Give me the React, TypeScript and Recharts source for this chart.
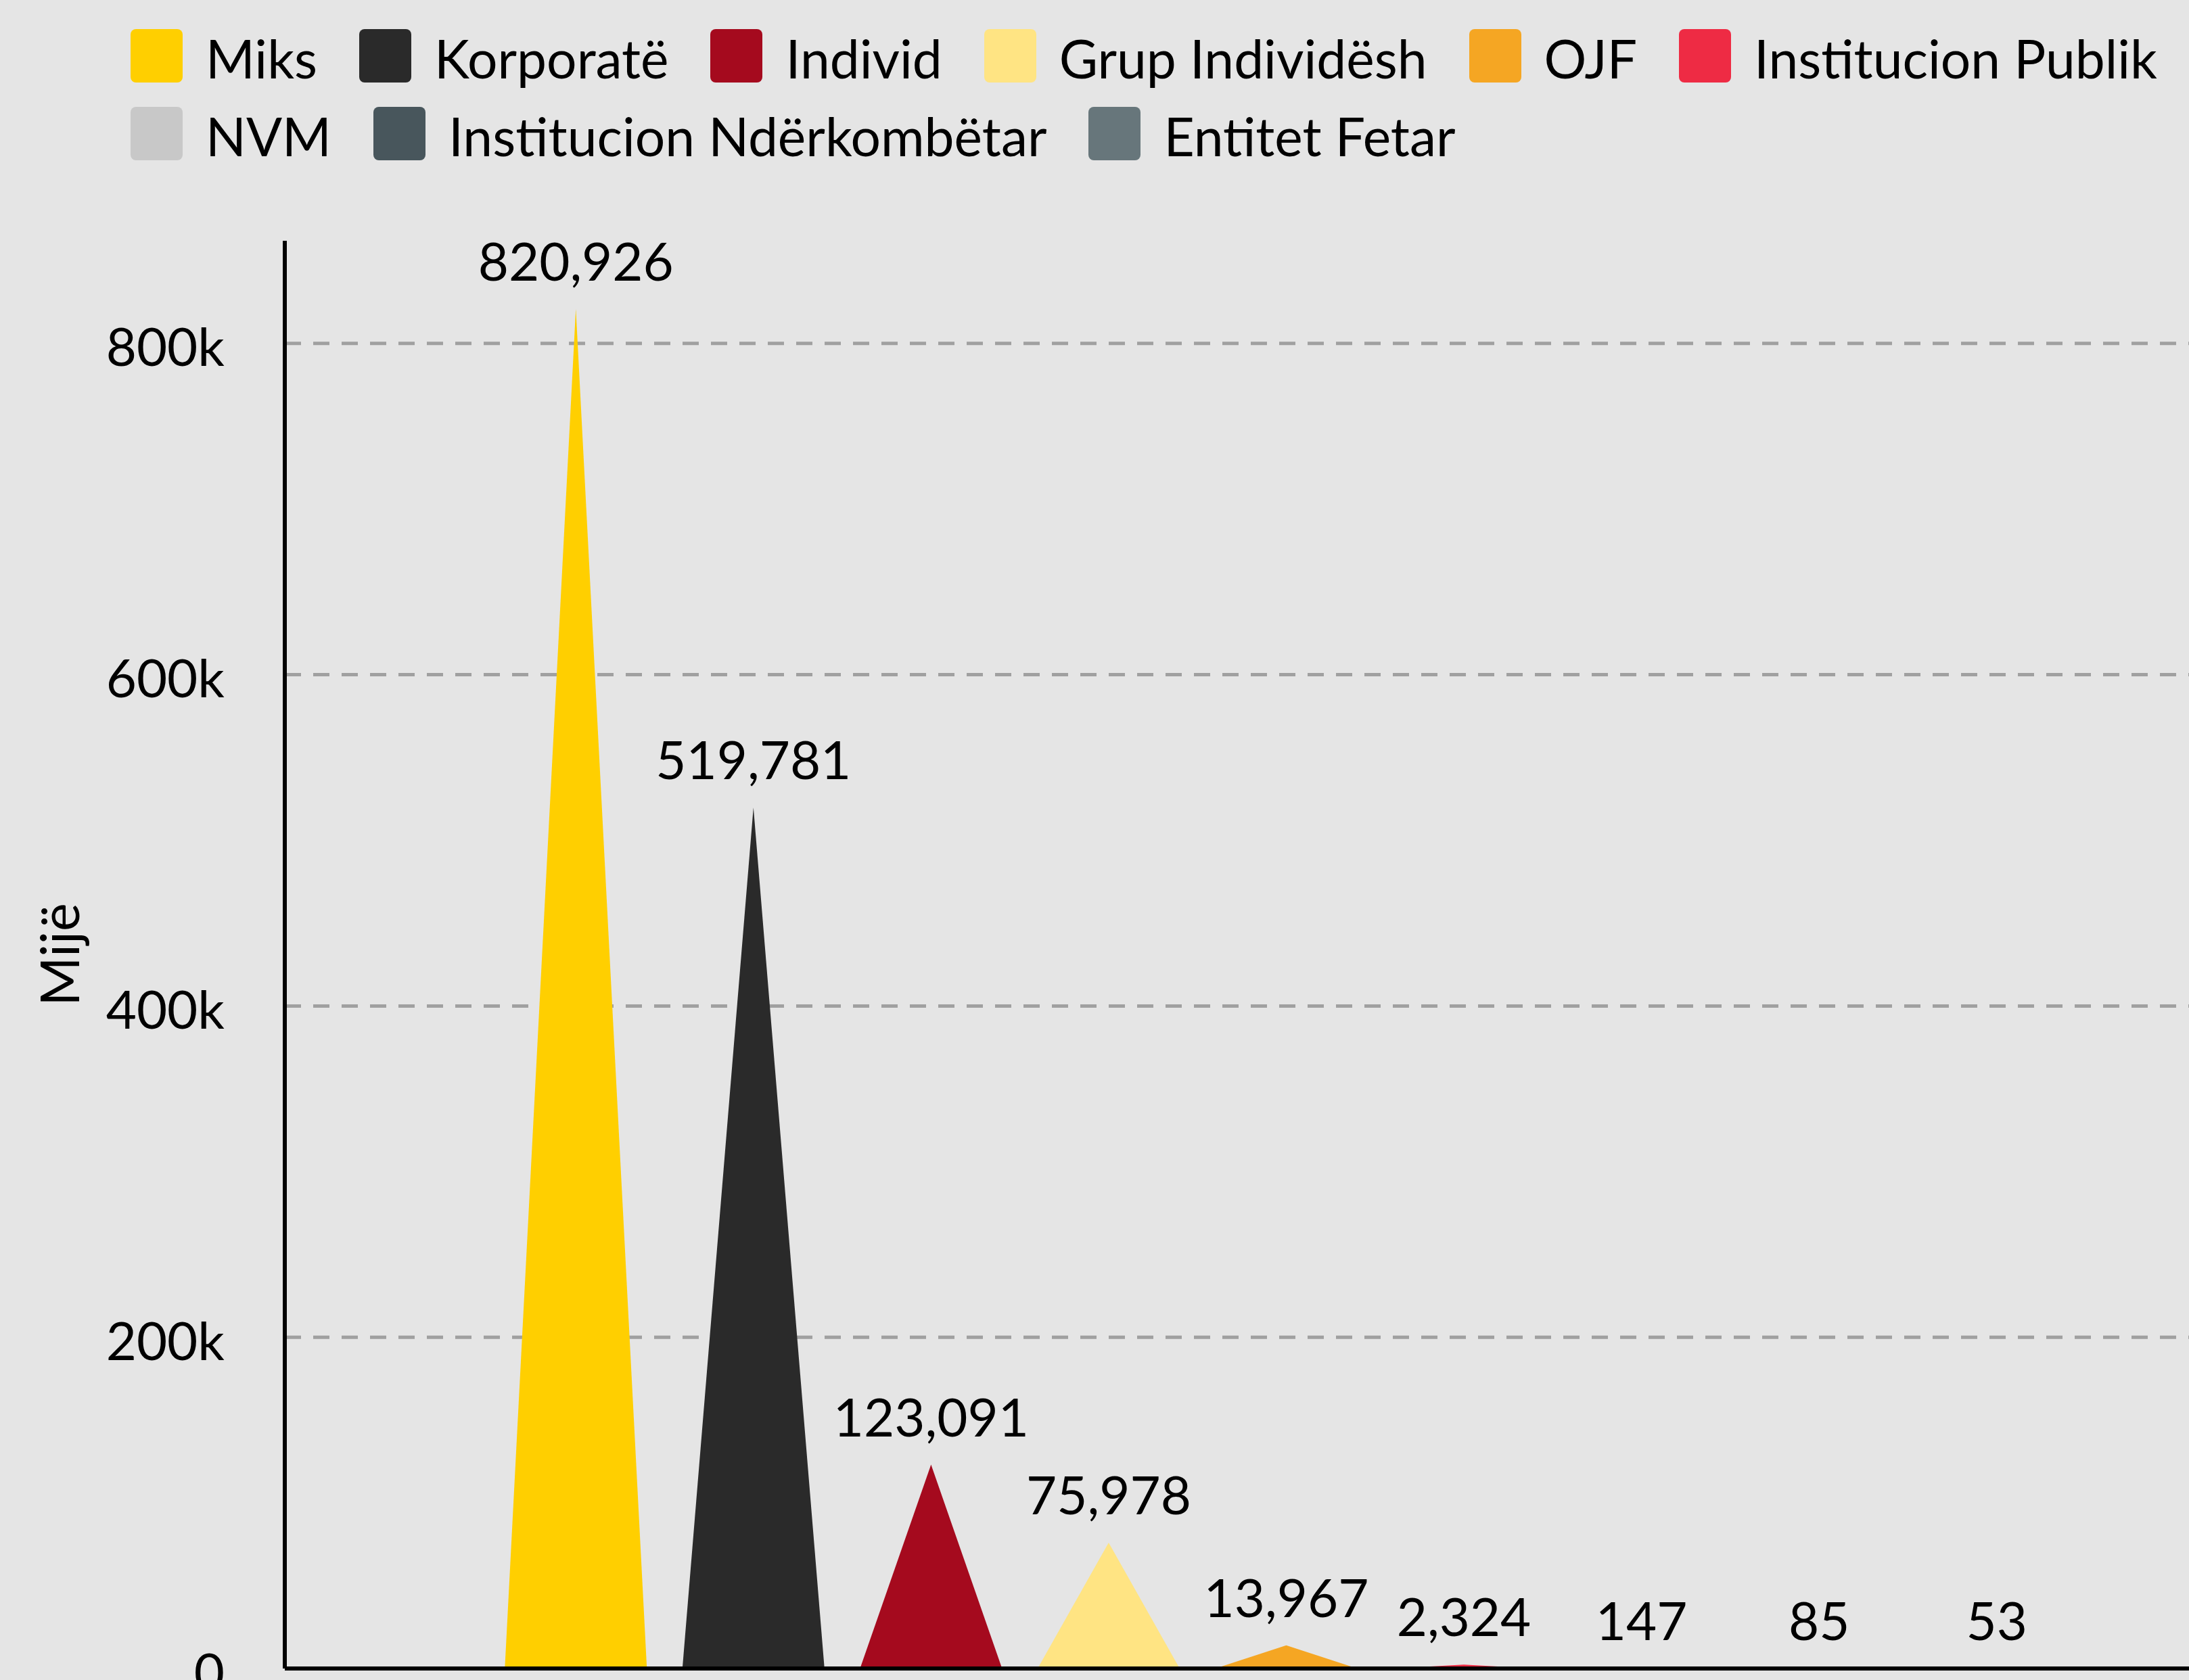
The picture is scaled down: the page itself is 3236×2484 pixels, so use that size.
import { BarChart, Bar, XAxis, YAxis, CartesianGrid, Cell, LabelList } from 'recharts'

const CATEGORIES = [
  'Miks',
  'Korporatë',
  'Individ',
  'Grup Individësh',
  'OJF',
  'Institucion Publik',
  'NVM',
  'Institucion Ndërkombëtar',
  'Entitet Fetar',
]
const VALUES = [820926, 519781, 123091, 75978, 13967, 2324, 147, 85, 53]
const COLORS = [
  '#FFCF00',
  '#2A2A2A',
  '#A50A1E',
  '#FFE483',
  '#F5A623',
  '#EE2B44',
  '#C8C8C8',
  '#48565C',
  '#67767B',
]
const Y_TICKS = [0, 200000, 400000, 600000, 800000]
const Y_LABEL = 'Mijë'
// legend wraps after this many entries
const LEGEND_BREAK = 6

const FONT = 'Lato, "Noto Sans", sans-serif'

const data = CATEGORIES.map((name, i) => ({ name, value: VALUES[i] }))

function TriangleBar({ x, y, width, height, fill }: any) {
  const base = y + height
  return (
    <path
      d={`M${x},${base}L${x + width / 2},${y}L${x + width},${base}Z`}
      fill={fill}
    />
  )
}

function YLabel({ viewBox }: any) {
  const cx = viewBox.x + 86
  const cy = viewBox.y + viewBox.height / 2
  return (
    <text
      x={cx}
      y={cy}
      transform={`rotate(-90, ${cx}, ${cy})`}
      textAnchor="middle"
      dominantBaseline="central"
      fontSize={79}
      fontFamily={FONT}
      fill="#000"
    >
      {Y_LABEL}
    </text>
  )
}

// skip the line the grid draws along the top edge of the plot
function GridLine(props: any) {
  const { x1, y1, x2, y2, y, stroke, strokeWidth, strokeDasharray } = props
  if (Math.abs(y1 - y) < 1) return null
  return (
    <line
      x1={x1}
      y1={y1}
      x2={x2}
      y2={y2}
      stroke={stroke}
      strokeWidth={strokeWidth}
      strokeDasharray={strokeDasharray}
      fill="none"
    />
  )
}

function LegendRow({ items }: { items: number[] }) {
  return (
    <div style={{ display: 'flex', gap: 62, alignItems: 'center' }}>
      {items.map((i) => (
        <div key={i} style={{ display: 'flex', alignItems: 'center' }}>
          <div
            style={{
              width: 77,
              height: 79,
              borderRadius: 8,
              background: COLORS[i],
              marginRight: 34,
            }}
          />
          <span
            style={{
              fontSize: 78.5,
              lineHeight: 1,
              position: 'relative',
              top: 4,
              whiteSpace: 'nowrap',
              color: '#000',
            }}
          >
            {CATEGORIES[i]}
          </span>
        </div>
      ))}
    </div>
  )
}

export default function App() {
  const idx = CATEGORIES.map((_, i) => i)
  return (
    <div
      style={{
        position: 'absolute',
        left: 0,
        top: 0,
        width: 3236,
        height: 2484,
        overflow: 'hidden',
        background: '#E5E5E5',
        fontFamily: FONT,
      }}
    >
      <div
        style={{
          position: 'absolute',
          left: 193,
          top: 43,
          display: 'flex',
          flexDirection: 'column',
          gap: 36,
        }}
      >
        <LegendRow items={idx.slice(0, LEGEND_BREAK)} />
        <LegendRow items={idx.slice(LEGEND_BREAK)} />
      </div>
      <div style={{ position: 'absolute', left: 0, top: 0 }}>
        <BarChart
          width={3402}
          height={2600}
          data={data}
          margin={{ top: 356, right: 20, bottom: 103, left: 0 }}
          barCategoryGap="10%"
        >
          <CartesianGrid
            vertical={false}
            horizontal={<GridLine />}
            stroke="#A0A0A0"
            strokeWidth={5}
            strokeDasharray="24 18"
          />
          <XAxis
            dataKey="name"
            padding={{ left: 299, right: 299 }}
            tick={false}
            tickLine={false}
            axisLine={{ stroke: '#000', strokeWidth: 6 }}
            height={30}
          />
          <YAxis
            width={421}
            domain={[0, (max: number) => max * 1.05]}
            ticks={Y_TICKS}
            tickLine={false}
            tickMargin={83}
            axisLine={{ stroke: '#000', strokeWidth: 6 }}
            tick={{ fontSize: 78, fill: '#000', fontFamily: FONT, dy: 6 }}
            tickFormatter={(v: number) => (v === 0 ? '0' : `${v / 1000}k`)}
            label={<YLabel />}
          />
          <Bar dataKey="value" shape={<TriangleBar />} isAnimationActive={false}>
            {data.map((d, i) => (
              <Cell key={d.name} fill={COLORS[i]} />
            ))}
            <LabelList
              dataKey="value"
              position="top"
              offset={42}
              formatter={(v: any) => Number(v).toLocaleString('en-US')}
              fontSize={78}
              fontFamily={FONT}
              fill="#000"
            />
          </Bar>
        </BarChart>
      </div>
    </div>
  )
}
